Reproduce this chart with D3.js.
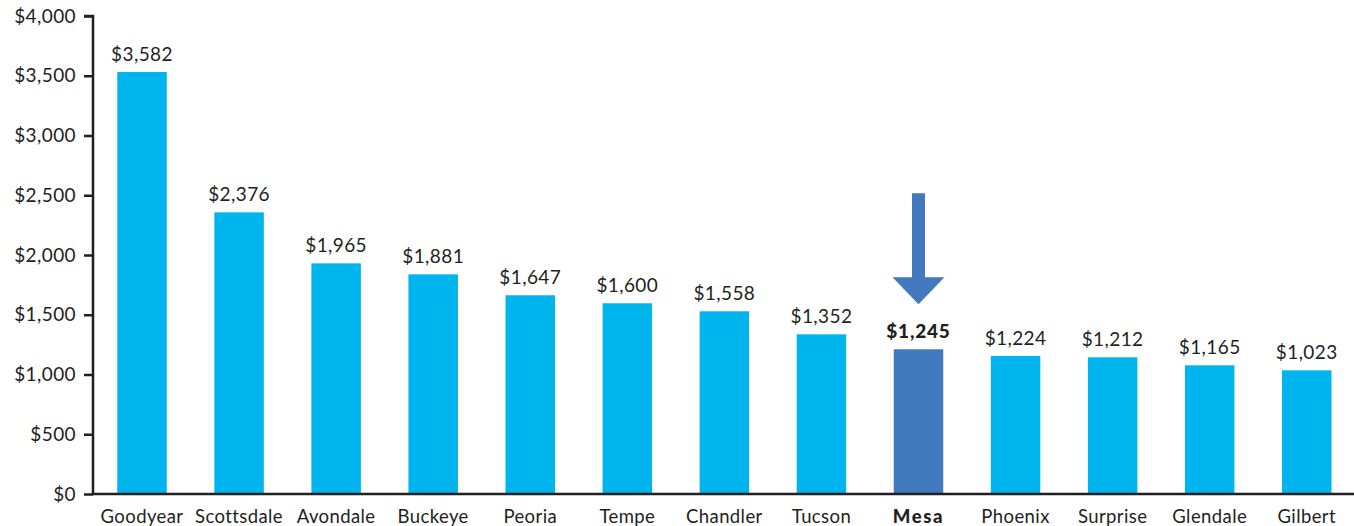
<!DOCTYPE html>
<html>
<head>
<meta charset="utf-8">
<script src="https://cdn.jsdelivr.net/npm/d3@7"></script>
<style>
  body { margin: 0; background: #fff; }
  svg text { font-family: Lato, "Open Sans", sans-serif; fill: #231f20; }
</style>
</head>
<body>
<div id="plot"></div>
<script>
const cities = ["Goodyear", "Scottsdale", "Avondale", "Buckeye", "Peoria", "Tempe", "Chandler",
  "Tucson", "Mesa", "Phoenix", "Surprise", "Glendale", "Gilbert"];
// amounts printed above the bars
const amounts = [3582, 2376, 1965, 1881, 1647, 1600, 1558, 1352, 1245, 1224, 1212, 1165, 1023];
// bar heights as drawn in the picture (they sit a little off the printed amounts)
const barValues = [3531, 2357, 1930, 1838, 1663, 1596, 1529, 1336, 1211, 1155, 1144, 1077, 1035];
const yTicks = [0, 500, 1000, 1500, 2000, 2500, 3000, 3500, 4000];
const highlight = "Mesa";

const W = 1354, H = 526;
const margin = {top: 16, right: 0, bottom: 32, left: 93};
const height = H - margin.top - margin.bottom;

const svg = d3.select("#plot").append("svg")
  .attr("width", W)
  .attr("height", H);

const x = d3.scaleBand()
  .domain(cities)
  .range([margin.left, margin.left + 97.06 * (13 - 0.49 + 0.5)])
  .paddingInner(0.49)
  .paddingOuter(0.25);

const y = d3.scaleLinear().domain([0, 4000]).range([margin.top + height, margin.top]);

const fmt = d3.format("$,");

// bars
svg.selectAll(".bar")
  .data(cities)
  .enter().append("rect")
  .attr("class", "bar")
  .attr("x", d => x(d))
  .attr("width", x.bandwidth())
  .attr("y", (d, i) => y(barValues[i]))
  .attr("height", (d, i) => y(0) - y(barValues[i]))
  .attr("fill", d => d === highlight ? "#4279bf" : "#00b4ee");

// value labels
svg.selectAll(".val")
  .data(cities)
  .enter().append("text")
  .attr("class", "val")
  .attr("x", d => x(d) + x.bandwidth() / 2)
  .attr("y", (d, i) => y(barValues[i]) - 11)
  .attr("text-anchor", "middle")
  .style("font-size", "19px")
  .style("letter-spacing", d => d === highlight ? "0.8px" : "0.4px")
  .style("font-weight", d => d === highlight ? 900 : 400)
  .text((d, i) => fmt(amounts[i]));

// y axis
const yAxis = svg.append("g")
  .attr("transform", `translate(${margin.left},0)`)
  .call(d3.axisLeft(y).tickValues(yTicks).tickFormat(fmt).tickSize(9).tickPadding(8));
yAxis.select(".domain").attr("stroke", "#231f20").attr("stroke-width", 2.5)
  .attr("d", `M-9,${y(4000)}H0V${y(0)}`);
yAxis.selectAll(".tick line").attr("stroke", "#231f20").attr("stroke-width", 2.5);
yAxis.selectAll(".tick text")
  .style("font-size", "19px")
  .style("letter-spacing", "0.4px")
  .attr("fill", "#231f20");

// x axis
const xAxis = svg.append("g")
  .attr("transform", `translate(0,${y(0)})`)
  .call(d3.axisBottom(x).tickSize(0).tickPadding(14));
xAxis.select(".domain").attr("stroke", "#231f20").attr("stroke-width", 2.5)
  .attr("d", `M${margin.left - 1},0H${W}`);
xAxis.selectAll(".tick text")
  .attr("dy", "0")
  .attr("y", 29)
  .style("font-size", "18.5px")
  .style("letter-spacing", d => d === highlight ? "1.6px" : "0.4px")
  .style("font-weight", d => d === highlight ? 900 : 400)
  .attr("fill", "#231f20");

// arrow pointing at the highlighted bar
const hi = cities.indexOf(highlight);
const cx = x(highlight) + x.bandwidth() / 2;
const tip = y(barValues[hi]) - 45;
const arrow = [
  [cx - 6.5, tip - 111], [cx + 6.5, tip - 111], [cx + 6.5, tip - 27], [cx + 26, tip - 27],
  [cx, tip], [cx - 26, tip - 27], [cx - 6.5, tip - 27]
];
svg.append("path")
  .attr("d", d3.line()(arrow) + "Z")
  .attr("fill", "#4279bf");
</script>
</body>
</html>
